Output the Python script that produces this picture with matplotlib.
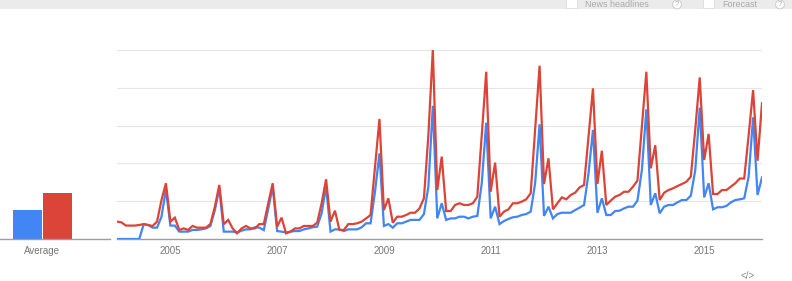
import matplotlib
matplotlib.use("Agg")
import matplotlib.pyplot as plt
from matplotlib.patches import Rectangle

plt.rcParams['font.family'] = ['Liberation Sans', 'DejaVu Sans']

# ---- data (monthly, Jan 2004 .. Feb 2016) ----
start_year = 2004
red = [9.2, 8.8, 7.1, 7.1, 7.1, 7.4, 7.9, 7.4, 6.9, 9.2, 20.6, 29.5,
       9.2, 11.3, 4.8, 5.6, 4.8, 6.9, 6.0, 6.0, 6.0, 7.9, 17.1, 28.6,
       7.8, 10.1, 5.6, 3.0, 5.6, 6.9, 5.6, 5.6, 7.9, 7.9, 18.9, 29.5,
       6.5, 11.3, 3.0, 3.9, 5.6, 5.6, 6.9, 6.9, 6.9, 8.6, 18.9, 31.6,
       9.2, 15.0, 4.8, 4.8, 7.9, 7.9, 8.3, 9.2, 10.9, 12.7, 38.0, 63.5,
       15.3, 21.5, 8.6, 11.8, 11.8, 12.7, 13.9, 13.9, 16.2, 21.5, 55.0, 100.0,
       25.9, 43.6, 14.8, 14.8, 18.0, 18.9, 18.0, 18.0, 18.9, 22.4, 55.0, 88.5,
       25.0, 40.4, 11.8, 14.5, 15.7, 18.9, 18.9, 19.8, 21.0, 24.2, 58.0, 91.7,
       29.1, 42.7, 15.7, 18.9, 22.0, 21.0, 23.3, 24.5, 27.3, 28.6, 54.0, 79.7,
       29.1, 46.7, 18.0, 20.3, 22.4, 23.3, 25.0, 25.0, 27.7, 30.9, 60.0, 88.5,
       37.4, 49.6, 20.6, 24.5, 25.9, 26.8, 28.0, 29.1, 30.3, 33.0, 58.0, 85.5,
       41.8, 55.6, 23.8, 23.8, 25.9, 25.9, 27.7, 29.5, 32.0, 32.0, 55.0, 78.8,
       41.4, 71.8]
blue = [0, 0, 0, 0, 0, 0, 7.8, 7.4, 6.0, 6.0, 11.8, 26.3,
        7.1, 7.1, 3.9, 3.9, 3.9, 4.8, 4.8, 5.1, 5.6, 6.9, 15.3, 26.8,
        3.9, 3.9, 3.9, 3.4, 4.4, 5.1, 5.1, 6.2, 6.0, 4.7, 16.0, 27.7,
        4.2, 3.9, 3.4, 3.9, 4.2, 4.2, 5.1, 5.6, 6.2, 6.5, 13.6, 27.7,
        3.9, 5.1, 5.1, 4.2, 5.1, 5.1, 5.1, 6.2, 8.3, 8.3, 25.0, 45.3,
        6.9, 7.9, 6.0, 8.3, 8.3, 9.2, 10.1, 10.1, 10.1, 13.2, 27.7, 70.5,
        10.9, 18.9, 10.1, 10.9, 10.9, 11.8, 11.8, 10.9, 11.8, 12.2, 29.5, 61.5,
        10.9, 17.1, 7.9, 9.5, 10.6, 11.5, 11.8, 12.7, 13.2, 14.5, 29.5, 60.7,
        12.2, 17.1, 10.9, 13.2, 13.9, 13.9, 13.9, 15.3, 16.6, 18.0, 34.7, 57.7,
        13.9, 21.5, 12.7, 12.7, 14.8, 15.0, 16.2, 17.1, 17.1, 20.3, 36.5, 68.6,
        18.0, 24.2, 13.6, 17.1, 18.0, 18.0, 19.4, 20.6, 20.6, 22.9, 36.5, 69.5,
        22.0, 29.5, 15.7, 16.8, 16.8, 17.5, 19.4, 20.6, 21.0, 21.5, 33.0, 64.4,
        23.3, 32.6]
averages = [15.3, 24.3]
avg_label = "Average"
tick_years = [2005, 2007, 2009, 2011, 2013, 2015]
yticks = [20, 40, 60, 80, 100]

BLUE = "#4285f4"
RED = "#db4437"
GRID = "#e6e6e6"
AXIS = "#9e9e9e"
TXT = "#777777"

W, H = 792, 281
fig = plt.figure(figsize=(W / 100, H / 100), dpi=100)
fig.patch.set_facecolor("white")

def fx(px):
    return px / W

def fy(py):
    return 1 - py / H

# header band
fig.patches.append(Rectangle((0, fy(9)), 1, 9 / H, transform=fig.transFigure,
                             facecolor="#ebebeb", edgecolor="none", zorder=0))
for x0 in (566, 703):
    fig.patches.append(Rectangle((fx(x0), fy(8)), 11 / W, 10 / H, transform=fig.transFigure,
                                 facecolor="white", edgecolor="#dddddd", lw=0.6, zorder=1))
fig.text(fx(585), fy(4.5), "News headlines", fontsize=6.5, color="#aaaaaa", va="center", ha="left")
fig.text(fx(722), fy(4.5), "Forecast", fontsize=6.5, color="#aaaaaa", va="center", ha="left")
for cx in (677, 780):
    fig.text(fx(cx), fy(4.5), "?", fontsize=5.5, color="#aaaaaa", va="center", ha="center",
             bbox=dict(boxstyle="circle,pad=0.12", fc="white", ec="#cccccc", lw=0.7))

# ---- main time-series axes ----
ax = fig.add_axes([fx(117), 1 - 239 / H, 645 / W, 189 / H])
n = len(red)
xs = [start_year + i / 12 for i in range(n)]
ax.plot(xs, blue, color=BLUE, lw=1.6, solid_joinstyle="miter", zorder=3)
ax.plot(xs, red, color=RED, lw=1.6, solid_joinstyle="miter", zorder=4)
ax.set_xlim(xs[0], xs[-1])
ax.set_ylim(0, 100)
ax.set_yticks(yticks)
ax.yaxis.grid(True, color=GRID, lw=0.8)
ax.set_axisbelow(True)
ax.tick_params(axis="y", length=0, labelleft=False)
ax.set_xticks(tick_years)
ax.set_xticklabels([str(y) for y in tick_years])
ax.tick_params(axis="x", length=0, pad=5, labelsize=7, labelcolor=TXT)
for s in ("top", "right", "left"):
    ax.spines[s].set_visible(False)
ax.spines["bottom"].set_color(AXIS)
ax.spines["bottom"].set_linewidth(1.0)
ax.set_facecolor("none")

# ---- average bars axes ----
bx = fig.add_axes([0, 1 - 239 / H, 110 / W, 189 / H])
bx.bar([0, 1], averages, width=0.98, color=[BLUE, RED], align="center")
bx.set_xlim(-0.94, 2.79)
bx.set_ylim(0, 100)
bx.set_xticks([0.5])
bx.set_xticklabels([avg_label])
bx.tick_params(axis="x", length=0, pad=5, labelsize=7, labelcolor=TXT)
bx.set_yticks([])
for s in ("top", "right", "left"):
    bx.spines[s].set_visible(False)
bx.spines["bottom"].set_color(AXIS)
bx.spines["bottom"].set_linewidth(1.0)
bx.set_facecolor("none")

# embed icon
fig.text(fx(748), fy(276), "</>", fontsize=7, color="#888888", ha="center", va="center")

fig.savefig("out.png", dpi=100)
